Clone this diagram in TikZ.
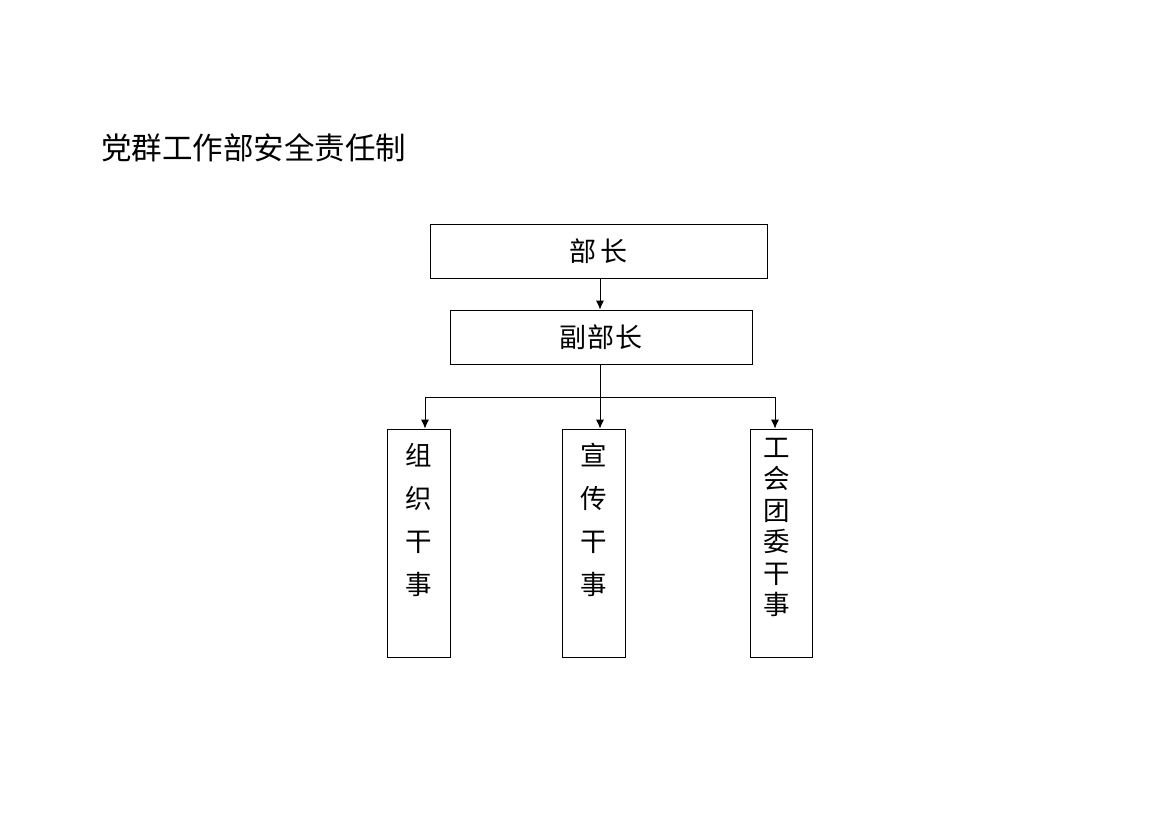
\documentclass[tikz,border=0pt]{standalone}
\usepackage{fontspec}
\usetikzlibrary{arrows.meta}
\newfontfamily\cjk{Noto Sans CJK SC}
\begin{document}
\begin{tikzpicture}[x=1pt,y=-1pt,
  box/.style={draw,line width=0.8pt,inner sep=0pt,font=\cjk\fontsize{27}{27}\selectfont},
  vlabel/.style={anchor=north,inner sep=0pt,align=center,font=\cjk\fontsize{26.5}{43}\selectfont},
  vlabeltight/.style={anchor=north,inner sep=0pt,align=center,font=\cjk\fontsize{26.5}{31.5}\selectfont},
  conn/.style={line width=0.8pt},
  arr/.style={line width=0.8pt,-{Latex[length=9pt,width=8pt]}}]
\useasboundingbox (0,0) rectangle (1169,826);
\node[anchor=west,inner sep=0pt,font=\cjk\fontsize{30.5}{30.5}\selectfont] (title) at (101,148) {党群工作部安全责任制};
\node[box,minimum width=337pt,minimum height=54pt] (bz) at (598.5,251) {部\,长};
\node[box,minimum width=302pt,minimum height=54pt] (fbz) at (601,337) {副\kern1pt 部\kern1pt 长};
\node[box,minimum width=63pt,minimum height=228pt] (b1) at (418.5,543) {};
\node[box,minimum width=63pt,minimum height=228pt] (b2) at (593.5,543) {};
\node[box,minimum width=62pt,minimum height=228pt] (b3) at (781,543) {};
\node[vlabel] (t1) at ([xshift=0.5pt,yshift=-14pt]b1.north) {组\\织\\干\\事};
\node[vlabel] (t2) at ([xshift=0.5pt,yshift=-14pt]b2.north) {宣\\传\\干\\事};
\node[vlabeltight] (t3) at ([xshift=-4.5pt,yshift=-9pt]b3.north) {工\\会\\团\\委\\干\\事};
\coordinate (j) at (600,397);
\coordinate (jl) at (425,397);
\coordinate (jr) at (775,397);
\draw[arr] (bz.south -| j) -- (fbz.north -| j);
\draw[conn] (fbz.south -| j) -- (j);
\draw[conn] (jl) -- (jr);
\draw[arr] (jl) -- (jl |- b1.north);
\draw[arr] (j) -- (j |- b2.north);
\draw[arr] (jr) -- (jr |- b3.north);
\end{tikzpicture}
\end{document}
